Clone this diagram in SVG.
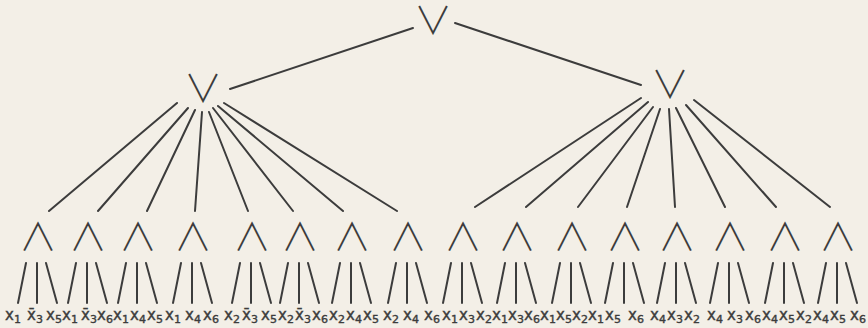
<svg xmlns="http://www.w3.org/2000/svg" width="868" height="328" viewBox="0 0 868 328">
<style>
.bg{fill:#f3efe7}
.e{stroke:#3c3c3c;stroke-width:2;stroke-linecap:round;fill:none}
.op{font-family:"Noto Sans CJK JP","DejaVu Sans",sans-serif;font-size:38px;font-weight:300;fill:#3c3c3c;text-anchor:middle}
.lit{font-family:"DejaVu Sans",sans-serif;font-size:15px;fill:#3c3c3c;stroke:#3c3c3c;stroke-width:0.4}
.sub{font-size:11px}
</style>
<rect class="bg" x="0" y="0" width="868" height="328"/>
<g id="connectors" class="e">
<path d="M413 28L230 89M455 23L641 85"/>
<path d="M177 103L49 211M188 108L98 211M195 110L147 211M202 112L195 211M209 112L248 211M213 108L293 211M218 106L343 211M224 103L397 211"/>
<path d="M641 98L475 207M648 102L526 207M653 107L578 207M660 109L627 207M669 109L675 207M676 108L725 207M686 105L776 207M694 100L830 207"/>
<path d="M26 263L18 303M37 263V303M46 263L57 303M76 263L68 303M87 263V303M96 263L107 303M126 263L118 303M137 263V303M146 263L157 303M181 263L173 303M192 263V303M201 263L212 303M240 263L232 303M251 263V303M260 263L271 303M288 263L280 303M299 263V303M308 263L319 303M340 263L332 303M351 263V303M360 263L371 303M396 263L388 303M407 263V303M416 263L427 303"/>
<path d="M451 263L443 303M462 263V303M471 263L482 303M505 263L497 303M516 263V303M525 263L536 303M560 263L552 303M571 263V303M580 263L591 303M613 263L605 303M624 263V303M633 263L644 303M665 263L657 303M676 263V303M685 263L696 303M718 263L710 303M729 263V303M738 263L749 303M773 263L765 303M784 263V303M793 263L804 303M826 263L818 303M837 263V303M846 263L857 303"/>
</g>
<g id="or-root"><text class="op" x="433" y="34">∨</text></g>
<g id="or-left"><text class="op" x="203" y="102">∨</text></g>
<g id="or-right"><text class="op" x="670" y="98">∨</text></g>
<g id="and-1"><text class="op" x="38" y="250">∧</text></g>
<g id="and-2"><text class="op" x="88" y="250">∧</text></g>
<g id="and-3"><text class="op" x="138" y="250">∧</text></g>
<g id="and-4"><text class="op" x="193" y="250">∧</text></g>
<g id="and-5"><text class="op" x="252" y="250">∧</text></g>
<g id="and-6"><text class="op" x="300" y="250">∧</text></g>
<g id="and-7"><text class="op" x="352" y="250">∧</text></g>
<g id="and-8"><text class="op" x="408" y="250">∧</text></g>
<g id="and-9"><text class="op" x="463" y="250">∧</text></g>
<g id="and-10"><text class="op" x="517" y="250">∧</text></g>
<g id="and-11"><text class="op" x="572" y="250">∧</text></g>
<g id="and-12"><text class="op" x="625" y="250">∧</text></g>
<g id="and-13"><text class="op" x="677" y="250">∧</text></g>
<g id="and-14"><text class="op" x="730" y="250">∧</text></g>
<g id="and-15"><text class="op" x="785" y="250">∧</text></g>
<g id="and-16"><text class="op" x="838" y="250">∧</text></g>
<g id="leaves-1"><text class="lit" x="5" y="320">x<tspan class="sub" dy="3">1</tspan></text><text class="lit" x="27" y="320">x̄<tspan class="sub" dy="3">3</tspan></text><text class="lit" x="46" y="320">x<tspan class="sub" dy="3">5</tspan></text></g>
<g id="leaves-2"><text class="lit" x="62" y="320">x<tspan class="sub" dy="3">1</tspan></text><text class="lit" x="81" y="320">x̄<tspan class="sub" dy="3">3</tspan></text><text class="lit" x="97" y="320">x<tspan class="sub" dy="3">6</tspan></text></g>
<g id="leaves-3"><text class="lit" x="113" y="320">x<tspan class="sub" dy="3">1</tspan></text><text class="lit" x="130" y="320">x<tspan class="sub" dy="3">4</tspan></text><text class="lit" x="147" y="320">x<tspan class="sub" dy="3">5</tspan></text></g>
<g id="leaves-4"><text class="lit" x="165" y="320">x<tspan class="sub" dy="3">1</tspan></text><text class="lit" x="185" y="320">x<tspan class="sub" dy="3">4</tspan></text><text class="lit" x="203" y="320">x<tspan class="sub" dy="3">6</tspan></text></g>
<g id="leaves-5"><text class="lit" x="224" y="320">x<tspan class="sub" dy="3">2</tspan></text><text class="lit" x="242" y="320">x̄<tspan class="sub" dy="3">3</tspan></text><text class="lit" x="261" y="320">x<tspan class="sub" dy="3">5</tspan></text></g>
<g id="leaves-6"><text class="lit" x="278" y="320">x<tspan class="sub" dy="3">2</tspan></text><text class="lit" x="295" y="320">x̄<tspan class="sub" dy="3">3</tspan></text><text class="lit" x="312" y="320">x<tspan class="sub" dy="3">6</tspan></text></g>
<g id="leaves-7"><text class="lit" x="329" y="320">x<tspan class="sub" dy="3">2</tspan></text><text class="lit" x="346" y="320">x<tspan class="sub" dy="3">4</tspan></text><text class="lit" x="363" y="320">x<tspan class="sub" dy="3">5</tspan></text></g>
<g id="leaves-8"><text class="lit" x="383" y="320">x<tspan class="sub" dy="3">2</tspan></text><text class="lit" x="403" y="320">x<tspan class="sub" dy="3">4</tspan></text><text class="lit" x="424" y="320">x<tspan class="sub" dy="3">6</tspan></text></g>
<g id="leaves-9"><text class="lit" x="442" y="320">x<tspan class="sub" dy="3">1</tspan></text><text class="lit" x="459" y="320">x<tspan class="sub" dy="3">3</tspan></text><text class="lit" x="476" y="320">x<tspan class="sub" dy="3">2</tspan></text></g>
<g id="leaves-10"><text class="lit" x="492" y="320">x<tspan class="sub" dy="3">1</tspan></text><text class="lit" x="508" y="320">x<tspan class="sub" dy="3">3</tspan></text><text class="lit" x="524" y="320">x<tspan class="sub" dy="3">6</tspan></text></g>
<g id="leaves-11"><text class="lit" x="540" y="320">x<tspan class="sub" dy="3">1</tspan></text><text class="lit" x="556" y="320">x<tspan class="sub" dy="3">5</tspan></text><text class="lit" x="572" y="320">x<tspan class="sub" dy="3">2</tspan></text></g>
<g id="leaves-12"><text class="lit" x="588" y="320">x<tspan class="sub" dy="3">1</tspan></text><text class="lit" x="605" y="320">x<tspan class="sub" dy="3">5</tspan></text><text class="lit" x="628" y="320">x<tspan class="sub" dy="3">6</tspan></text></g>
<g id="leaves-13"><text class="lit" x="650" y="320">x<tspan class="sub" dy="3">4</tspan></text><text class="lit" x="667" y="320">x<tspan class="sub" dy="3">3</tspan></text><text class="lit" x="684" y="320">x<tspan class="sub" dy="3">2</tspan></text></g>
<g id="leaves-14"><text class="lit" x="707" y="320">x<tspan class="sub" dy="3">4</tspan></text><text class="lit" x="727" y="320">x<tspan class="sub" dy="3">3</tspan></text><text class="lit" x="745" y="320">x<tspan class="sub" dy="3">6</tspan></text></g>
<g id="leaves-15"><text class="lit" x="762" y="320">x<tspan class="sub" dy="3">4</tspan></text><text class="lit" x="779" y="320">x<tspan class="sub" dy="3">5</tspan></text><text class="lit" x="796" y="320">x<tspan class="sub" dy="3">2</tspan></text></g>
<g id="leaves-16"><text class="lit" x="813" y="320">x<tspan class="sub" dy="3">4</tspan></text><text class="lit" x="830" y="320">x<tspan class="sub" dy="3">5</tspan></text><text class="lit" x="850" y="320">x<tspan class="sub" dy="3">6</tspan></text></g>
</svg>
